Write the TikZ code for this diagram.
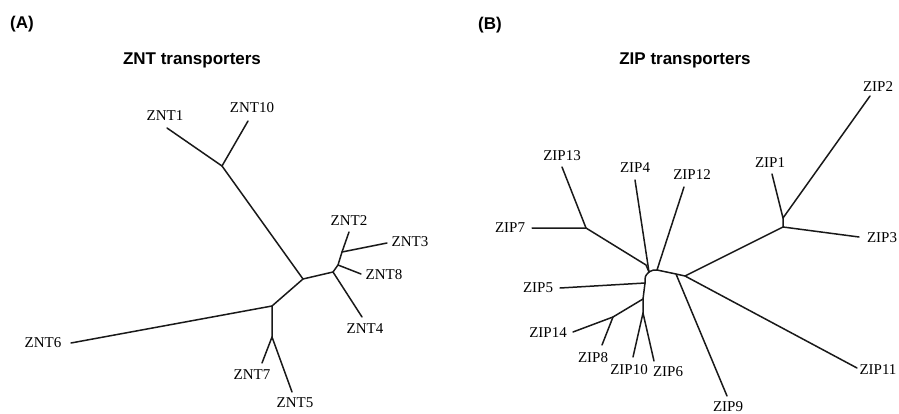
\documentclass[tikz,border=0pt]{standalone}
\usepackage{fontspec}
\setmainfont{Liberation Serif}
\newfontfamily\headfont{Liberation Sans}
\tikzset{
  leaf/.style={inner sep=0pt, font=\fontsize{15}{15}\selectfont},
  title/.style={inner sep=0pt, font=\headfont\bfseries\fontsize{17}{17}\selectfont},
  br/.style={line width=1.5pt, line cap=round, line join=round, black!90}
}
\begin{document}
\begin{tikzpicture}[x=1pt,y=-1pt]
\useasboundingbox (0,0) rectangle (899,414);
% titles
\node[title] (tA) at (22,24) {(A)};
\node[title] (tB) at (490,25) {(B)};
\node[title] (hA) at (192,60) {ZNT transporters};
\node[title] (hB) at (685,60) {ZIP transporters};
% ---------- ZNT tree ----------
\coordinate (a1) at (222,166);
\coordinate (b) at (303,279);
\coordinate (c) at (272,306);
\coordinate (d) at (272,337);
\coordinate (e) at (333,272);
\coordinate (f) at (338,265);
\coordinate (g) at (342,252);
\coordinate (n1) at (167,128);
\coordinate (n10) at (248,121);
\coordinate (n6) at (71,343);
\coordinate (n7) at (262,363);
\coordinate (n5) at (292,392);
\coordinate (n4) at (362,317);
\coordinate (n8) at (361,274);
\coordinate (n2) at (349,232);
\coordinate (n3) at (387,243);
\node[leaf] (L1) at (165,116) {ZNT1};
\node[leaf] (L10) at (252,108) {ZNT10};
\node[leaf] (L2) at (349,221) {ZNT2};
\node[leaf] (L3) at (410,242) {ZNT3};
\node[leaf] (L8) at (384,275) {ZNT8};
\node[leaf] (L4) at (365,329) {ZNT4};
\node[leaf] (L7) at (252,375) {ZNT7};
\node[leaf] (L5) at (295,403) {ZNT5};
\node[leaf] (L6) at (43,343) {ZNT6};
\draw[br] (n1) -- (a1) -- (n10);
\draw[br] (a1) -- (b) -- (c) -- (n6);
\draw[br] (c) -- (d) -- (n7);
\draw[br] (d) -- (n5);
\draw[br] (b) -- (e) -- (n4);
\draw[br] (e) -- (f) -- (n8);
\draw[br] (f) -- (g) -- (n2);
\draw[br] (g) -- (n3);
% ---------- ZIP tree ----------
\coordinate (p) at (783,218);
\coordinate (q) at (783,227);
\coordinate (r) at (685,276);
\coordinate (s) at (676,274);
\coordinate (t) at (657,270);
\coordinate (u) at (649,272);
\coordinate (v) at (646,265);
\coordinate (m) at (586,228);
\coordinate (w) at (645,283);
\coordinate (x) at (643,299);
\coordinate (y) at (613,317);
\coordinate (z) at (643,313);
\coordinate (z2) at (870,96);
\coordinate (z1) at (772,174);
\coordinate (z3) at (859,237);
\coordinate (z11) at (857,368);
\coordinate (z9) at (727,396);
\coordinate (z12) at (684,187);
\coordinate (z4) at (635,180);
\coordinate (z13) at (562,167);
\coordinate (z7) at (532,228);
\coordinate (z5) at (560,288);
\coordinate (z14) at (573,332);
\coordinate (z8) at (602,345);
\coordinate (z10) at (633,357);
\coordinate (z6) at (654,361);
\node[leaf] (P2) at (878,87) {ZIP2};
\node[leaf] (P1) at (770,163) {ZIP1};
\node[leaf] (P3) at (882,238) {ZIP3};
\node[leaf] (P11) at (878,370) {ZIP11};
\node[leaf] (P9) at (728,407) {ZIP9};
\node[leaf] (P6) at (668,372) {ZIP6};
\node[leaf] (P10) at (629,370) {ZIP10};
\node[leaf] (P8) at (593,358) {ZIP8};
\node[leaf] (P14) at (548,333) {ZIP14};
\node[leaf] (P5) at (538,288) {ZIP5};
\node[leaf] (P7) at (510,228) {ZIP7};
\node[leaf] (P13) at (562,156) {ZIP13};
\node[leaf] (P4) at (635,168) {ZIP4};
\node[leaf] (P12) at (692,175) {ZIP12};
\draw[br] (z1) -- (p) -- (z2);
\draw[br] (p) -- (q) -- (z3);
\draw[br] (q) -- (r) -- (z11);
\draw[br] (r) -- (s) -- (z9);
\draw[br] (s) -- (t) -- (z12);
\draw[br] (t) .. controls (653,270) .. (u);
\draw[br] (u) -- (z4);
\draw[br] (u) -- (v) -- (m) -- (z7);
\draw[br] (m) -- (z13);
\draw[br] (u) .. controls (645,276) .. (w);
\draw[br] (w) -- (z5);
\draw[br] (w) -- (x) -- (y) -- (z14);
\draw[br] (y) -- (z8);
\draw[br] (x) -- (z) -- (z10);
\draw[br] (z) -- (z6);
\end{tikzpicture}
\end{document}
